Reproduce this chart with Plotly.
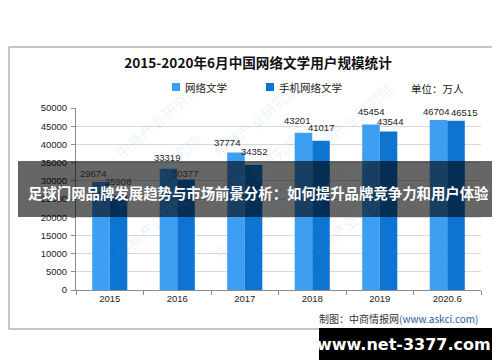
import plotly.graph_objects as go

# ---------------- data ----------------
years = ["2015", "2016", "2017", "2018", "2019", "2020.6"]
web_lit_users = [29674, 33319, 37774, 43201, 45454, 46704]
mobile_lit_users = [25908, 30377, 34352, 41017, 43544, 46515]
series_names = ["网络文学", "手机网络文学"]
y_tick_vals = [0, 5000, 10000, 15000, 20000, 25000, 30000, 35000, 40000, 45000, 50000]

title_text = "2015-2020年6月中国网络文学用户规模统计"
unit_text = "单位：万人"
source_main = "制图：中商情报网"
source_url = "(www.askci.com)"
banner_text = "足球门网品牌发展趋势与市场前景分析：如何提升品牌竞争力和用户体验"
site_text = "www.net-3377.com"
watermark_text = "中商产业研究院"

# ---------------- style / layout ----------------
W, H = 500, 362
L, R, T, B = 68, 473, 100, 282
BARGAP = 0.48
COLORS = ["#3e9ef2", "#0e74d2"]
# small manual nudges of the value labels (px), as in the source chart
light_dx = [-8, -1, -9, -6, 0, -2]
light_dy = [8, 11, 10, 12, 13, 9]
dark_dx = [-1, -1, 0, 0, 1, 8]
dark_dy = [14, 6, 13, 13, 10, 8]
legend_item_x = [168, 262]   # legend swatch centres (px)
legend_y = 79

CJK = "Noto Sans CJK SC"
NUM = "Liberation Sans"


def px(x):
    return (x - L) / (R - L)


def py(y):
    return (B - y) / (B - T)


fig = go.Figure()
fig.add_bar(name=series_names[0], x=years, y=web_lit_users,
            marker=dict(color=COLORS[0], line=dict(width=0)), hoverinfo="x+y")
fig.add_bar(name=series_names[1], x=years, y=mobile_lit_users,
            marker=dict(color=COLORS[1], line=dict(width=0)), hoverinfo="x+y")

annotations = []
shapes = []
half = (R - L) / len(years) * (1 - BARGAP) / 4
for i, cat in enumerate(years):
    for vals, sign, dxs, dys in ((web_lit_users, -1, light_dx, light_dy),
                                 (mobile_lit_users, 1, dark_dx, dark_dy)):
        annotations.append(dict(
            x=i, y=vals[i], xref="x", yref="y", text=str(vals[i]),
            showarrow=False, xanchor="center", yanchor="middle",
            xshift=sign * half + dxs[i], yshift=dys[i],
            font=dict(family=NUM, size=9.5, color="#222222")))

# faint watermarks
for cy in (68, 163, 258):
    for cx in (100, 248, 392):
        annotations.append(dict(
            x=px(cx), y=py(cy), xref="paper", yref="paper", text=watermark_text,
            showarrow=False, textangle=-40,
            font=dict(family=CJK, size=15, color="rgba(80,150,215,0.13)")))

# legend (drawn by hand to match the compact source legend)
for name, col, lx in zip(series_names, COLORS, legend_item_x):
    shapes.append(dict(type="rect", xref="paper", yref="paper",
                       x0=px(lx - 4), x1=px(lx + 4), y0=py(legend_y + 4), y1=py(legend_y - 4),
                       line=dict(width=0), fillcolor=col))
    annotations.append(dict(x=px(lx + 7), y=py(legend_y), xref="paper", yref="paper",
                            text=name, showarrow=False, xanchor="left", yanchor="middle",
                            font=dict(family=CJK, size=10.5, color="#222222")))

# unit
annotations.append(dict(x=px(458), y=py(81), xref="paper", yref="paper",
                        text=unit_text, showarrow=False, xanchor="right", yanchor="middle",
                        font=dict(family=CJK, size=10.5, color="#222222")))
# source
annotations.append(dict(x=px(472), y=py(310), xref="paper", yref="paper",
                        text=source_main + "<span style='color:#2c5aa0'>" + source_url + "</span>",
                        showarrow=False, xanchor="right", yanchor="middle",
                        font=dict(family=CJK, size=10, color="#333333")))
# banner text
annotations.append(dict(x=px(250), y=py(184), xref="paper", yref="paper",
                        text="<b>" + banner_text + "</b>", showarrow=False,
                        xanchor="center", yanchor="middle",
                        font=dict(family=CJK, size=14.4, color="white")))
# site text
annotations.append(dict(x=px(396), y=py(336), xref="paper", yref="paper",
                        text="<b>" + site_text + "</b>", showarrow=False,
                        xanchor="center", yanchor="middle",
                        font=dict(family="DejaVu Sans", size=16, color="white")))

shapes += [
    # outer chart frame
    dict(type="rect", xref="paper", yref="paper", x0=px(1), x1=px(499.5), y0=py(321), y1=py(39),
         line=dict(color="#8c8c8c", width=1), fillcolor="rgba(0,0,0,0)", layer="below"),
    # dark banner
    dict(type="rect", xref="paper", yref="paper", x0=px(10), x1=px(490), y0=py(209), y1=py(153),
         line=dict(width=0), fillcolor="rgba(0,0,0,0.6)", layer="above"),
    # black site box
    dict(type="rect", xref="paper", yref="paper", x0=px(311), x1=px(491), y0=py(352), y1=py(320),
         line=dict(width=0), fillcolor="black", layer="above"),
]

fig.update_layout(
    width=W, height=H,
    margin=dict(l=L, r=W - R, t=T, b=H - B, pad=0),
    paper_bgcolor="white", plot_bgcolor="white",
    barmode="group", bargap=BARGAP, bargroupgap=0,
    title=dict(text="<b>" + title_text + "</b>", x=0.5, xref="container", xanchor="center",
               y=1 - 55 / H, yref="container", yanchor="middle",
               font=dict(family=CJK, size=13.6, color="#111111")),
    showlegend=False,
    xaxis=dict(type="category", range=[-0.5, len(years) - 0.5], showgrid=False,
               showline=True, linecolor="#8c8c8c", linewidth=1,
               ticks="outside", ticklen=4, tickcolor="#8c8c8c", tickson="boundaries",
               tickfont=dict(family=NUM, size=9.5, color="#222222"), fixedrange=True),
    yaxis=dict(range=[0, 50000], tickvals=y_tick_vals, tickformat="d", showgrid=True,
               gridcolor="#d9d9d9", gridwidth=1, showline=True, linecolor="#8c8c8c", linewidth=1,
               ticks="outside", ticklen=4, tickcolor="#8c8c8c", zeroline=False,
               tickfont=dict(family=NUM, size=9.5, color="#222222"), ticklabelstandoff=2,
               fixedrange=True),
    annotations=annotations, shapes=shapes,
)

fig.write_html("out.html")
